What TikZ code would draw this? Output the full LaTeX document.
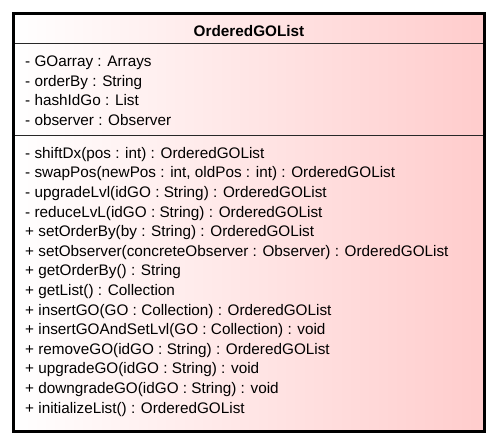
\documentclass[tikz,border=0pt]{standalone}
\usepackage{fontspec}
\setmainfont{Liberation Sans}
\definecolor{pinkR}{RGB}{255,204,204}
\definecolor{sepc}{RGB}{40,40,40}
\tikzset{
  member/.style={anchor=base west, inner sep=0pt, font=\fontsize{15.3}{18}\selectfont},
  titletext/.style={anchor=base, inner sep=0pt, font=\fontsize{15.3}{18}\selectfont\bfseries},
  classbox/.style={line width=3pt, draw=black, left color=white, right color=pinkR, shading angle=90},
  sep/.style={line width=1.3pt, draw=sepc}
}
\begin{document}
\begin{tikzpicture}[x=1pt,y=-1pt]
\useasboundingbox (0,0) rectangle (497,445);
\path[classbox] (13.5,13.5) rectangle (484.2,431);
\coordinate (s1l) at (15,43.8);
\coordinate (s1r) at (482.7,43.8);
\coordinate (s2l) at (15,135.5);
\coordinate (s2r) at (482.7,135.5);
\draw[sep] (s1l) -- (s1r);
\draw[sep] (s2l) -- (s2r);
\node[titletext] (title) at (249,36.3) {OrderedGOList};
\node[member] (a1) at (25,66.7) {- GOarray : Arrays};
\node[member] (a2) at (25,86.3) {- orderBy : String};
\node[member] (a3) at (25,105.9) {- hashIdGo : List};
\node[member] (a4) at (25,125.5) {- observer : Observer};
\node[member] (m1) at (25,158.3) {- shiftDx(pos : int) : OrderedGOList};
\node[member] (m2) at (25,177.9) {- swapPos(newPos : int, oldPos : int) : OrderedGOList};
\node[member] (m3) at (25,197.5) {- upgradeLvl(idGO : String) : OrderedGOList};
\node[member] (m4) at (25,217.1) {- reduceLvL(idGO : String) : OrderedGOList};
\node[member] (m5) at (25,236.7) {+ setOrderBy(by : String) : OrderedGOList};
\node[member] (m6) at (25,256.3) {+ setObserver(concreteObserver : Observer) : OrderedGOList};
\node[member] (m7) at (25,275.9) {+ getOrderBy() : String};
\node[member] (m8) at (25,295.5) {+ getList() : Collection};
\node[member] (m9) at (25,315.1) {+ insertGO(GO : Collection) : OrderedGOList};
\node[member] (m10) at (25,334.7) {+ insertGOAndSetLvl(GO : Collection) : void};
\node[member] (m11) at (25,354.3) {+ removeGO(idGO : String) : OrderedGOList};
\node[member] (m12) at (25,373.9) {+ upgradeGO(idGO : String) : void};
\node[member] (m13) at (25,393.5) {+ downgradeGO(idGO : String) : void};
\node[member] (m14) at (25,413.1) {+ initializeList() : OrderedGOList};
\end{tikzpicture}
\end{document}
